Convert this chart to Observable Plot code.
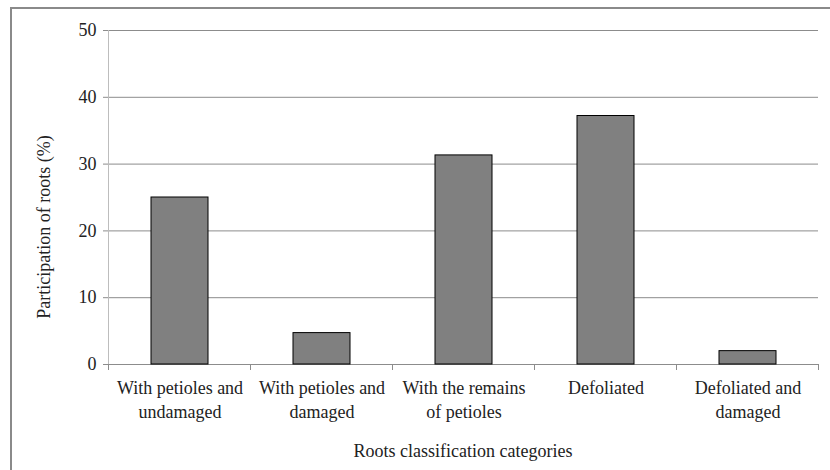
<!DOCTYPE html>
<html>
<head>
<meta charset="utf-8">
<script src="https://cdn.jsdelivr.net/npm/d3@7"></script>
<script src="https://cdn.jsdelivr.net/npm/@observablehq/plot@0.6"></script>
<style>
  html, body { margin: 0; padding: 0; background: #fff; }
  #wrap { position: relative; width: 830px; height: 470px; overflow: hidden; }
  #border { position: absolute; left: 10px; top: 7px; width: 840px; height: 480px; border: 2px solid #8a8a8a; box-sizing: border-box; }
  #chart { position: absolute; left: 0; top: 0; }
</style>
</head>
<body>
<div id="wrap"><div id="border"></div><div id="chart"></div></div>
<script>
const categories = [
  "With petioles and undamaged",
  "With petioles and damaged",
  "With the remains of petioles",
  "Defoliated",
  "Defoliated and damaged"
];
const labels = [
  "With petioles and\nundamaged",
  "With petioles and\ndamaged",
  "With the remains\nof petioles",
  "Defoliated",
  "Defoliated and\ndamaged"
];
const values = [25.0, 4.7, 31.3, 37.2, 2.0];
const yTicks = [0, 10, 20, 30, 40, 50];
const xTitle = "Roots classification categories";
const yTitle = "Participation of roots (%)";

const data = categories.map((c, i) => ({category: c, label: labels[i], value: values[i]}));
const labelOf = new Map(categories.map((c, i) => [c, labels[i]]));

const W = 830, H = 470, mL = 108, mR = 12, mT = 30, mB = 106;
const pInner = 0.6, pOuter = 0.3;
const step = (W - mL - mR) / (categories.length - pInner + 2 * pOuter);
const FONT = "Liberation Serif";
const FS = 18;

const plot = Plot.plot({
  width: W,
  height: H,
  marginLeft: mL,
  marginRight: mR,
  marginTop: mT,
  marginBottom: mB,
  style: {fontFamily: FONT, fontSize: FS + "px", color: "#222", background: "transparent"},
  x: {domain: categories, paddingInner: pInner, paddingOuter: pOuter, label: null},
  y: {domain: [0, 50], label: null},
  marks: [
    Plot.ruleY(yTicks, {y: d => d, stroke: "#8c8c8c", strokeWidth: 1, strokeOpacity: 1}),
    Plot.barY(data, {x: "category", y: "value", fill: "#808080", stroke: "#000", strokeWidth: 1}),
    Plot.axisY({ticks: yTicks, tickSize: 5, tickPadding: 7, stroke: "#8c8c8c", strokeOpacity: 1, fontSize: FS, tickFormat: d => d}),
    Plot.frame({anchor: "left", stroke: "#bdbdbd"}),
    Plot.axisX({tickSize: 0, tickPadding: 13, tickFormat: d => labelOf.get(d), fontSize: FS, lineHeight: 1.3})
  ]
});

document.getElementById("chart").appendChild(plot);

const xs = plot.scale("x"), ys = plot.scale("y");
const svg = d3.select(plot);
const y0 = ys.apply(0);
const g = svg.append("g").attr("stroke", "#8c8c8c");
const bounds = categories.map(c => xs.apply(c) - (step - xs.bandwidth) / 2);
bounds.push(xs.apply(categories[categories.length - 1]) + xs.bandwidth + (step - xs.bandwidth) / 2);
bounds.forEach(b => g.append("line").attr("x1", b).attr("x2", b).attr("y1", y0).attr("y2", y0 + 6));

const xMid = (mL + (W - mR)) / 2;
svg.append("text")
  .attr("x", xMid).attr("y", 457)
  .attr("text-anchor", "middle")
  .attr("font-size", FS).attr("fill", "#222")
  .text(xTitle);
svg.append("text")
  .attr("transform", `translate(50,227) rotate(-90)`)
  .attr("text-anchor", "middle")
  .attr("font-size", FS).attr("fill", "#222")
  .text(yTitle);
svg.attr("font-family", FONT);
svg.selectAll("text, tspan, g").attr("font-family", FONT);
</script>
</body>
</html>
